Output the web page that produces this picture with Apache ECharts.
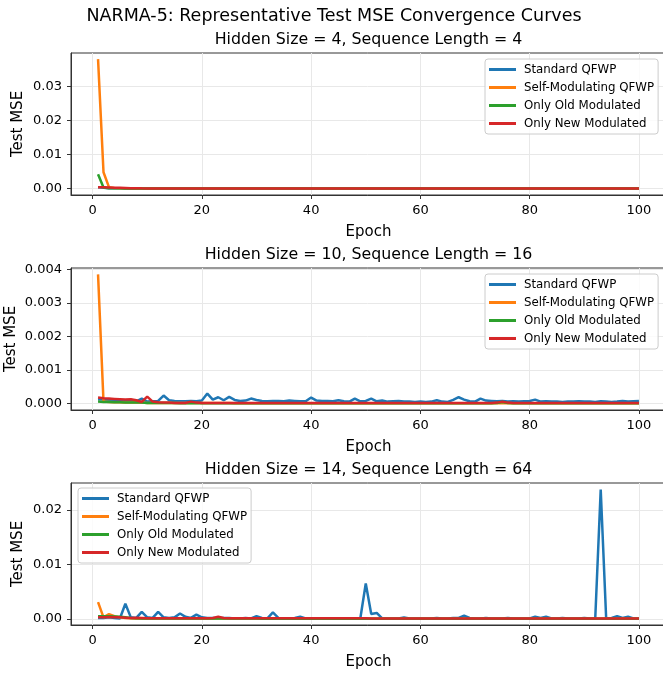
<!DOCTYPE html>
<html>
<head>
<meta charset="utf-8">
<script src="https://cdn.jsdelivr.net/npm/echarts@6/dist/echarts.min.js"></script>
<style>
  html, body { margin: 0; padding: 0; background: #fff; }
  #chart { width: 663px; height: 675px; }
</style>
</head>
<body>
<div id="chart"></div>
<script>
// epochs (x values)
var epochs = [
  1, 2, 3, 4, 5, 6, 7, 8, 9, 10, 11, 12, 13, 14, 15, 16, 17, 18, 19, 20,
  21, 22, 23, 24, 25, 26, 27, 28, 29, 30, 31, 32, 33, 34, 35, 36, 37, 38, 39, 40,
  41, 42, 43, 44, 45, 46, 47, 48, 49, 50, 51, 52, 53, 54, 55, 56, 57, 58, 59, 60,
  61, 62, 63, 64, 65, 66, 67, 68, 69, 70, 71, 72, 73, 74, 75, 76, 77, 78, 79, 80,
  81, 82, 83, 84, 85, 86, 87, 88, 89, 90, 91, 92, 93, 94, 95, 96, 97, 98, 99, 100
];
var seriesNames = ['Standard QFWP', 'Self-Modulating QFWP', 'Only Old Modulated', 'Only New Modulated'];
var panelTitles = [
  'Hidden Size = 4, Sequence Length = 4',
  'Hidden Size = 10, Sequence Length = 16',
  'Hidden Size = 14, Sequence Length = 64'
];
var xTicks = [0, 20, 40, 60, 80, 100];
var yTicks1 = [0, 0.01, 0.02, 0.03];
var yTicks2 = [0, 0.001, 0.002, 0.003, 0.004];
var yTicks3 = [0, 0.01, 0.02];

// --- hidden 4 / seq 4 (values x1e-4)
var std4 = [
  3.5, 2.0, 1.2, 0.8, 0.6, 0.5, 0.4, 0.4, 0.3, 0.3, 0.3, 0.3, 0.2, 0.2, 0.2, 0.2, 0.2, 0.2, 0.2, 0.2,
  0.2, 0.2, 0.2, 0.1, 0.1, 0.1, 0.1, 0.1, 0.1, 0.1, 0.1, 0.1, 0.1, 0.1, 0.1, 0.1, 0.1, 0.1, 0.1, 0.1,
  0.1, 0.1, 0.1, 0.1, 0.1, 0.1, 0.1, 0.1, 0.1, 0.1, 0.1, 0.1, 0.1, 0.1, 0.1, 0.1, 0.1, 0.1, 0.1, 0.1,
  0.1, 0.1, 0.1, 0.1, 0.1, 0.1, 0.1, 0.1, 0.1, 0.1, 0.1, 0.1, 0.1, 0.1, 0.1, 0.1, 0.1, 0.1, 0.1, 0.1,
  0.1, 0.1, 0.1, 0.1, 0.1, 0.1, 0.1, 0.1, 0.1, 0.1, 0.1, 0.1, 0.1, 0.1, 0.1, 0.1, 0.1, 0.1, 0.1, 0.1
];
var self4 = [
  381, 48, 4.0, 1.5, 1.0, 0.8, 0.6, 0.5, 0.4, 0.4, 0.3, 0.3, 0.3, 0.3, 0.2, 0.2, 0.2, 0.2, 0.2, 0.2,
  0.2, 0.2, 0.2, 0.2, 0.2, 0.2, 0.1, 0.1, 0.1, 0.1, 0.1, 0.1, 0.1, 0.1, 0.1, 0.1, 0.1, 0.1, 0.1, 0.1,
  0.1, 0.1, 0.1, 0.1, 0.1, 0.1, 0.1, 0.1, 0.1, 0.1, 0.1, 0.1, 0.1, 0.1, 0.1, 0.1, 0.1, 0.1, 0.1, 0.1,
  0.1, 0.1, 0.1, 0.1, 0.1, 0.1, 0.1, 0.1, 0.1, 0.1, 0.1, 0.1, 0.1, 0.1, 0.1, 0.1, 0.1, 0.1, 0.1, 0.1,
  0.1, 0.1, 0.1, 0.1, 0.1, 0.1, 0.1, 0.1, 0.1, 0.1, 0.1, 0.1, 0.1, 0.1, 0.1, 0.1, 0.1, 0.1, 0.1, 0.1
];
var old4 = [
  42, 3.0, 1.2, 0.8, 0.6, 0.5, 0.4, 0.3, 0.3, 0.3, 0.2, 0.2, 0.2, 0.2, 0.2, 0.2, 0.2, 0.1, 0.1, 0.1,
  0.1, 0.1, 0.1, 0.1, 0.1, 0.1, 0.1, 0.1, 0.1, 0.1, 0.1, 0.1, 0.1, 0.1, 0.1, 0.1, 0.1, 0.1, 0.1, 0.1,
  0.1, 0.1, 0.1, 0.1, 0.1, 0.1, 0.1, 0.1, 0.1, 0.1, 0.1, 0.1, 0.1, 0.1, 0.1, 0.1, 0.1, 0.1, 0.1, 0.1,
  0.1, 0.1, 0.1, 0.1, 0.1, 0.1, 0.1, 0.1, 0.1, 0.1, 0.1, 0.1, 0.1, 0.1, 0.1, 0.1, 0.1, 0.1, 0.1, 0.1,
  0.1, 0.1, 0.1, 0.1, 0.1, 0.1, 0.1, 0.1, 0.1, 0.1, 0.1, 0.1, 0.1, 0.1, 0.1, 0.1, 0.1, 0.1, 0.1, 0.1
];
var new4 = [
  4.0, 3.5, 3.0, 2.5, 2.0, 1.5, 1.0, 0.8, 0.6, 0.5, 0.4, 0.4, 0.3, 0.3, 0.3, 0.3, 0.2, 0.2, 0.2, 0.2,
  0.2, 0.2, 0.2, 0.2, 0.2, 0.2, 0.2, 0.2, 0.2, 0.2, 0.1, 0.1, 0.1, 0.1, 0.1, 0.1, 0.1, 0.1, 0.1, 0.1,
  0.1, 0.1, 0.1, 0.1, 0.1, 0.1, 0.1, 0.1, 0.1, 0.1, 0.1, 0.1, 0.1, 0.1, 0.1, 0.1, 0.1, 0.1, 0.1, 0.1,
  0.1, 0.1, 0.1, 0.1, 0.1, 0.1, 0.1, 0.1, 0.1, 0.1, 0.1, 0.1, 0.1, 0.1, 0.1, 0.1, 0.1, 0.1, 0.1, 0.1,
  0.1, 0.1, 0.1, 0.1, 0.1, 0.1, 0.1, 0.1, 0.1, 0.1, 0.1, 0.1, 0.1, 0.1, 0.1, 0.1, 0.1, 0.1, 0.1, 0.1
];

// --- hidden 10 / seq 16 (values x1e-4)
var std10 = [
  1.3, 1.2, 1.1, 1.0, 0.9, 0.8, 0.9, 0.7, 1.5, 0.6, 0.7, 0.8, 2.4, 1.0, 0.8, 0.7, 0.7, 0.8, 0.7, 0.9,
  3.0, 1.2, 1.9, 1.0, 2.0, 1.1, 0.8, 0.9, 1.5, 1.1, 0.8, 0.7, 0.8, 0.8, 0.7, 0.9, 0.8, 0.7, 0.7, 1.8,
  0.9, 0.8, 0.8, 0.7, 1.0, 0.7, 0.6, 1.5, 0.7, 0.8, 1.5, 0.7, 0.9, 0.6, 0.7, 0.8, 0.6, 0.6, 0.5, 0.6,
  0.5, 0.6, 1.0, 0.6, 0.5, 1.1, 1.9, 1.2, 0.7, 0.6, 1.5, 0.9, 0.8, 0.7, 0.8, 0.6, 0.7, 0.6, 0.7, 0.8,
  1.2, 0.6, 0.7, 0.6, 0.6, 0.5, 0.6, 0.6, 0.7, 0.6, 0.6, 0.5, 0.7, 0.6, 0.5, 0.6, 0.8, 0.6, 0.7, 0.8
];
var self10 = [
  38.5, 0.6, 0.5, 0.4, 0.4, 0.3, 0.3, 0.3, 0.3, 0.2, 0.2, 0.2, 0.2, 0.2, 0.2, 0.2, 0.2, 0.2, 0.2, 0.2,
  0.2, 0.2, 0.2, 0.2, 0.2, 0.1, 0.1, 0.1, 0.1, 0.1, 0.1, 0.1, 0.1, 0.1, 0.1, 0.1, 0.1, 0.1, 0.1, 0.1,
  0.1, 0.1, 0.1, 0.1, 0.1, 0.1, 0.1, 0.1, 0.1, 0.1, 0.1, 0.1, 0.1, 0.1, 0.1, 0.1, 0.1, 0.1, 0.1, 0.1,
  0.1, 0.1, 0.1, 0.1, 0.1, 0.1, 0.1, 0.1, 0.1, 0.1, 0.1, 0.1, 0.1, 0.1, 0.1, 0.1, 0.1, 0.1, 0.1, 0.1,
  0.1, 0.1, 0.1, 0.1, 0.1, 0.1, 0.1, 0.1, 0.1, 0.1, 0.1, 0.1, 0.1, 0.1, 0.1, 0.1, 0.1, 0.1, 0.1, 0.1
];
var old10 = [
  0.6, 0.5, 0.5, 0.4, 0.4, 0.3, 0.3, 0.3, 0.3, 0.2, 0.2, 0.2, 0.2, 0.2, 0.2, 0.1, 0.1, 0.1, 0.1, 0.1,
  0.1, 0.1, 0.1, 0.1, 0.1, 0.1, 0.1, 0.1, 0.1, 0.1, 0.1, 0.1, 0.1, 0.1, 0.1, 0.1, 0.1, 0.1, 0.1, 0.1,
  0.1, 0.1, 0.1, 0.1, 0.1, 0.1, 0.1, 0.1, 0.1, 0.1, 0.1, 0.1, 0.1, 0.1, 0.1, 0.1, 0.1, 0.1, 0.1, 0.1,
  0.1, 0.1, 0.1, 0.1, 0.1, 0.1, 0.1, 0.1, 0.1, 0.1, 0.1, 0.1, 0.1, 0.2, 0.5, 0.2, 0.1, 0.1, 0.1, 0.1,
  0.1, 0.1, 0.1, 0.1, 0.1, 0.1, 0.1, 0.1, 0.1, 0.1, 0.1, 0.1, 0.1, 0.1, 0.1, 0.1, 0.1, 0.1, 0.1, 0.1
];
var new10 = [
  1.8, 1.6, 1.5, 1.4, 1.3, 1.2, 1.3, 1.0, 0.5, 2.1, 0.6, 0.4, 0.3, 0.3, 0.2, 0.2, 0.2, 0.6, 0.3, 0.2,
  0.2, 0.2, 0.2, 0.2, 0.2, 0.2, 0.2, 0.2, 0.2, 0.2, 0.2, 0.2, 0.2, 0.2, 0.2, 0.2, 0.2, 0.2, 0.2, 0.2,
  0.2, 0.2, 0.2, 0.2, 0.2, 0.2, 0.2, 0.2, 0.2, 0.2, 0.2, 0.2, 0.2, 0.2, 0.2, 0.2, 0.2, 0.2, 0.2, 0.2,
  0.2, 0.2, 0.2, 0.2, 0.2, 0.2, 0.2, 0.2, 0.2, 0.2, 0.2, 0.2, 0.2, 0.3, 0.6, 0.3, 0.2, 0.2, 0.2, 0.2,
  0.2, 0.2, 0.2, 0.2, 0.2, 0.2, 0.2, 0.2, 0.2, 0.2, 0.2, 0.2, 0.2, 0.2, 0.2, 0.2, 0.2, 0.2, 0.2, 0.2
];

// --- hidden 14 / seq 64 (values x1e-4)
var std14 = [
  2, 2, 3, 2, 1, 28, 3, 2, 13, 3, 2, 13, 3, 2, 3, 10, 4, 2, 8, 3,
  2, 2, 2, 2, 2, 1, 1, 2, 1, 5, 2, 1, 12, 2, 1, 1, 2, 4, 1, 1,
  1, 1, 1, 1, 1, 1, 1, 1, 1, 65, 9, 11, 1, 1, 1, 1, 3, 1, 1, 1,
  1, 1, 2, 1, 1, 2, 2, 6, 2, 1, 1, 2, 1, 1, 1, 2, 1, 1, 1, 1,
  4, 2, 4, 1, 1, 2, 1, 1, 1, 2, 1, 1, 237, 1, 2, 5, 2, 4, 1, 1
];
var self14 = [
  31, 3, 9, 5, 3, 2, 1.5, 1, 1, 1, 1, 1, 1, 1, 1, 1, 1, 1, 1, 1,
  1, 1, 1, 1, 1, 1, 1, 1, 1, 1, 0.8, 0.8, 0.8, 0.8, 0.8, 0.8, 0.8, 0.8, 0.8, 0.8,
  0.8, 0.8, 0.8, 0.8, 0.8, 0.8, 0.8, 0.8, 0.8, 0.8, 0.6, 0.6, 0.6, 0.6, 0.6, 0.6, 0.6, 0.6, 0.6, 0.6,
  0.6, 0.6, 0.6, 0.6, 0.6, 0.6, 0.6, 0.6, 0.6, 0.6, 0.5, 0.5, 0.5, 0.5, 0.5, 0.5, 0.5, 0.5, 0.5, 0.5,
  0.5, 0.5, 0.5, 0.5, 0.5, 0.5, 0.5, 0.5, 0.5, 0.5, 0.5, 0.5, 0.5, 0.5, 0.5, 0.5, 0.5, 0.5, 0.5, 0.5
];
var old14 = [
  5, 5, 5, 4.5, 4, 3, 2, 1.5, 1, 1, 1, 1, 1, 1, 1, 1, 1, 1, 1, 1,
  0.8, 0.8, 0.8, 0.8, 0.8, 0.8, 0.8, 0.8, 0.8, 0.8, 0.6, 0.6, 0.6, 0.6, 0.6, 0.6, 0.6, 0.6, 0.6, 0.6,
  0.6, 0.6, 0.6, 0.6, 0.6, 0.6, 0.6, 0.6, 0.6, 0.6, 0.5, 0.5, 0.5, 0.5, 0.5, 0.5, 0.5, 0.5, 0.5, 0.5,
  0.5, 0.5, 0.5, 0.5, 0.5, 0.5, 0.5, 0.5, 0.5, 0.5, 0.5, 0.5, 0.5, 0.5, 0.5, 0.5, 0.5, 0.5, 0.5, 0.5,
  0.5, 0.5, 0.5, 0.5, 0.5, 0.5, 0.5, 0.5, 0.5, 0.5, 0.5, 0.5, 0.5, 0.5, 0.5, 0.5, 0.5, 0.5, 0.5, 0.5
];
var new14 = [
  3, 3, 3.5, 3, 3, 2.5, 2, 2.5, 2, 1.5, 1.5, 1.5, 1.5, 1.5, 1.5, 1.5, 1.5, 1.5, 1.5, 1.5,
  1.5, 2, 4, 2, 1.5, 1.5, 1.5, 1.5, 1.5, 1.5, 1.2, 1.2, 1.2, 1.2, 1.2, 1.2, 1.2, 1.2, 1.2, 1.2,
  1.2, 1.2, 1.2, 1.2, 1.2, 1.2, 1.2, 1.2, 1.2, 1.2, 1, 1, 1, 1, 1, 1, 1, 1, 1, 1,
  1, 1, 1, 1, 1, 1, 1, 1, 1, 1, 1, 1, 1, 1, 1, 1, 1, 1, 1, 1,
  1, 1, 1, 1, 1, 1, 1, 1, 1, 1, 1, 1, 1, 1, 1, 1, 1, 1, 1, 1
];

var panelData = [
  [std4, self4, old4, new4],
  [std10, self10, old10, new10],
  [std14, self14, old14, new14]
];
var scale = 1e-4;

var colors = ['#1f77b4', '#ff7f0e', '#2ca02c', '#d62728'];
var FONT = 'DejaVu Sans';
var chart = echarts.init(document.getElementById('chart'), null, { renderer: 'canvas' });

// layout of the three panels
var gridTops = [53, 268, 483];
var gridH = 142;
var gridLeft = 71, gridW = 595;
var yRanges = [[-0.0019, 0.0399], [-0.00019, 0.00404], [-0.0011, 0.0249]];
var yTickSets = [yTicks1, yTicks2, yTicks3];
var yDigits = [2, 3, 2];
var yNameGaps = [45, 52, 45];
var legendPos = [
  { left: 485, top: 59 },
  { left: 485, top: 274 },
  { left: 78, top: 488 }
];

var titles = [{
  text: 'NARMA-5: Representative Test MSE Convergence Curves',
  left: 334, top: 16, padding: 0,
  textAlign: 'center', textVerticalAlign: 'middle',
  textStyle: { fontFamily: FONT, fontSize: 17.5, fontWeight: 'normal', color: '#000' }
}];
var grids = [], xAxes = [], yAxes = [], legends = [], series = [];

panelTitles.forEach(function (t, p) {
  titles.push({
    text: t,
    left: gridLeft + gridW / 2, top: gridTops[p] - 13, padding: 0,
    textAlign: 'center', textVerticalAlign: 'middle',
    textStyle: { fontFamily: FONT, fontSize: 15.8, fontWeight: 'normal', color: '#000' }
  });
  grids.push({
    left: gridLeft, top: gridTops[p], width: gridW, height: gridH,
    outerBoundsMode: 'none', containLabel: false,
    show: true, borderColor: '#333', borderWidth: 1, backgroundColor: 'transparent'
  });
  xAxes.push({
    type: 'value', gridIndex: p, min: -3.95, max: 104.95,
    name: 'Epoch', nameLocation: 'middle', nameGap: 30, nameMoveOverlap: false,
    nameTextStyle: { fontFamily: FONT, fontSize: 15, color: '#000' },
    axisLine: { show: true, onZero: false, lineStyle: { color: '#333', width: 1 } },
    axisTick: { show: true, length: 4, lineStyle: { color: '#333' }, customValues: xTicks },
    axisLabel: { fontFamily: FONT, fontSize: 13, color: '#000', margin: 9, customValues: xTicks },
    splitLine: { show: true, lineStyle: { color: '#e8e8e8', width: 1 } }
  });
  yAxes.push({
    type: 'value', gridIndex: p, min: yRanges[p][0], max: yRanges[p][1],
    name: 'Test MSE', nameLocation: 'middle', nameGap: yNameGaps[p], nameRotate: 90,
    nameMoveOverlap: false,
    nameTextStyle: { fontFamily: FONT, fontSize: 15, color: '#000' },
    axisLine: { show: true, onZero: false, lineStyle: { color: '#333', width: 1 } },
    axisTick: { show: true, length: 4, lineStyle: { color: '#333' }, customValues: yTickSets[p] },
    axisLabel: {
      fontFamily: FONT, fontSize: 13, color: '#000', margin: 9, customValues: yTickSets[p],
      formatter: (function (d) { return function (v) { return Number(v).toFixed(d); }; })(yDigits[p])
    },
    splitLine: { show: true, lineStyle: { color: '#e8e8e8', width: 1 } }
  });
  legends.push({
    orient: 'vertical', left: legendPos[p].left, top: legendPos[p].top,
    data: seriesNames, icon: 'rect', itemWidth: 27, itemHeight: 3, itemGap: 3,
    padding: [3, 4, 3, 4],
    backgroundColor: 'rgba(255,255,255,0.8)', borderColor: '#cccccc', borderWidth: 1, borderRadius: 3,
    textStyle: { fontFamily: FONT, fontSize: 11.8, color: '#000', lineHeight: 15, padding: [0, 0, 0, 3] },
    selectedMode: false
  });
  panelData[p].forEach(function (arr, k) {
    series.push({
      name: seriesNames[k], type: 'line', xAxisIndex: p, yAxisIndex: p,
      data: epochs.map(function (e, i) { return [e, arr[i] * scale]; }),
      showSymbol: false, symbol: 'none',
      lineStyle: { color: colors[k], width: 2.5 },
      itemStyle: { color: colors[k] },
      animation: false
    });
  });
});

chart.setOption({
  backgroundColor: '#fff',
  animation: false,
  color: colors,
  title: titles,
  grid: grids,
  xAxis: xAxes,
  yAxis: yAxes,
  legend: legends,
  series: series
});
</script>
</body>
</html>
